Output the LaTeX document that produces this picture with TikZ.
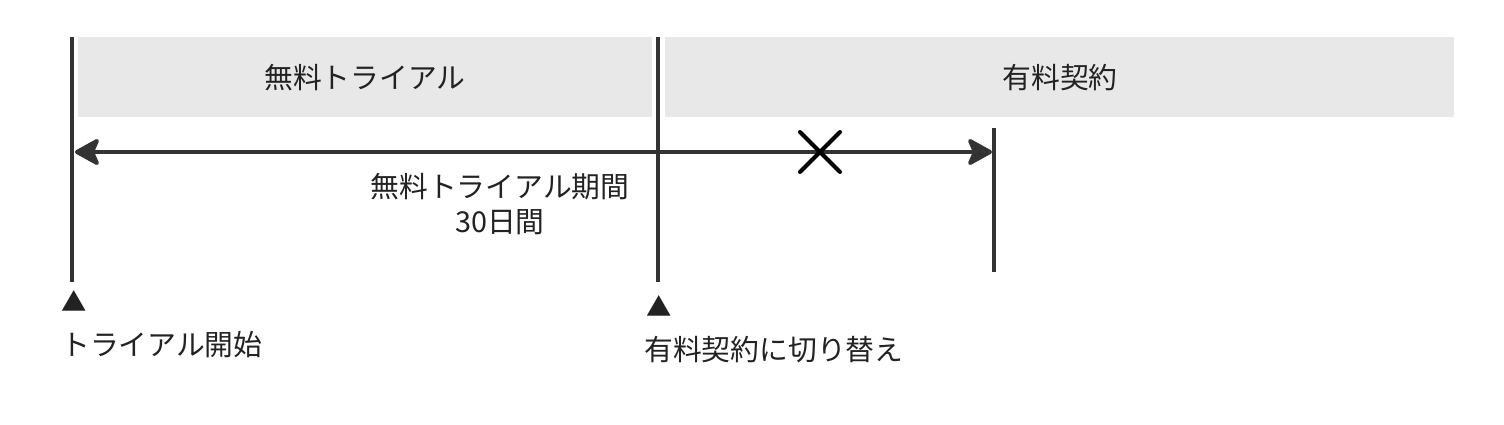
\documentclass[tikz,border=0pt]{standalone}
\usepackage{fontspec}
\setmainfont{Noto Sans CJK JP}
\usetikzlibrary{arrows.meta}

\definecolor{bandgray}{HTML}{E8E8E8}
\definecolor{linegray}{HTML}{333333}
\definecolor{textblack}{HTML}{222222}

\begin{document}
\begin{tikzpicture}[x=0.75pt, y=-0.75pt,
	every node/.style={font=\fontsize{21.6pt}{25pt}\selectfont, text=textblack, inner sep=0pt},
	band/.style={fill=bandgray, draw=none},
	tick/.style={draw=linegray, line width=3pt},
	marker/.style={font=\fontsize{19pt}{21pt}\selectfont}]

% Page size
\useasboundingbox (0,0) rectangle (1504,425);

% Phase bands
\fill[band] (78,37) rectangle (652,117);
\fill[band] (665,37) rectangle (1454,117);
\node (trial) at (365,78) {無料トライアル};
\node (paid) at (1060,78) {有料契約};

% Vertical markers
\coordinate (s0) at (72,37);
\coordinate (s1) at (72,282);
\coordinate (w0) at (658,37);
\coordinate (w1) at (658,282);
\coordinate (e0) at (994,128);
\coordinate (e1) at (994,272);
\draw[tick] (s0) -- (s1);
\draw[tick] (w0) -- (w1);
\draw[tick] (e0) -- (e1);

% Period arrow
\coordinate (a0) at (75,152);
\coordinate (a1) at (992,152);
\draw[linegray, line width=3pt, {Stealth[length=21pt, width=23pt, inset=5pt, round]}-{Stealth[length=21pt, width=23pt, inset=5pt, round]}] (a0) -- (a1);

% Cross mark
\coordinate (x0) at (800,132);
\coordinate (x1) at (840,172);
\coordinate (x2) at (800,172);
\coordinate (x3) at (840,132);
\draw[black, line width=3pt, line cap=round] (x0) -- (x1);
\draw[black, line width=3pt, line cap=round] (x2) -- (x3);

\node (period) at (500,187) {無料トライアル期間};
\node (days) at (500,222) {30日間};

% Event labels
\node[marker] (m0) at (74,301) {▲};
\node[marker] (m1) at (659,306) {▲};
\node[anchor=west] (start) at (61,345) {トライアル開始};
\node[anchor=west] (switch) at (644,350) {有料契約に切り替え};

\end{tikzpicture}
\end{document}
